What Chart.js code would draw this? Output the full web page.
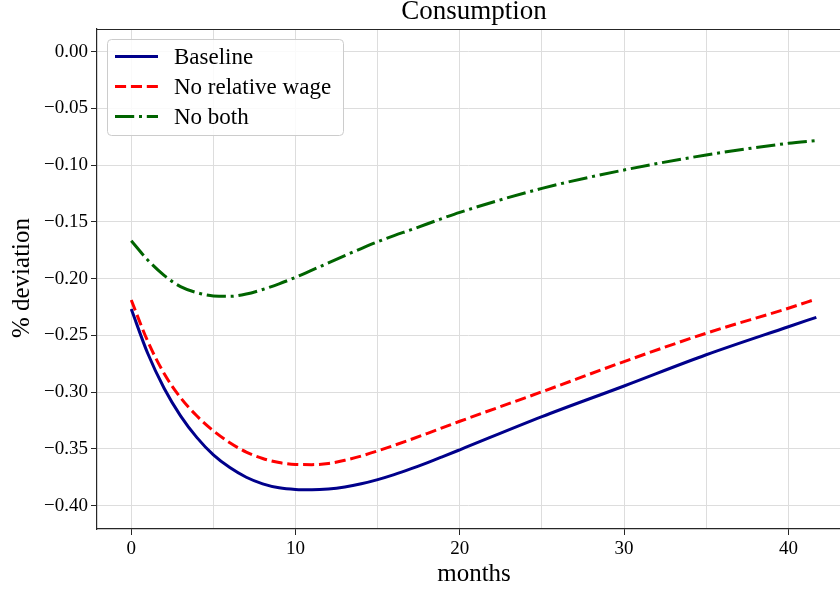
<!DOCTYPE html>
<html>
<head>
<meta charset="utf-8">
<script src="https://cdn.jsdelivr.net/npm/chart.js@4"></script>
<style>
  html, body { margin: 0; padding: 0; background: #ffffff; }
  #wrap { width: 840px; height: 589px; }
</style>
</head>
<body>
<div id="wrap"><canvas id="c" width="840" height="589"></canvas></div>
<script>
// ---- data ----
const months = [0,1,2,3,4,5,6,7,8,9,10,11,12,13,14,15,16,17,18,19,20,25,30,35,40,41.7];
const baseline = [-0.2267,-0.2657,-0.2965,-0.3208,-0.3400,-0.3552,-0.3664,-0.3749,-0.3807,-0.3842,-0.3857,-0.3860,-0.3853,-0.3835,-0.3807,-0.3770,-0.3726,-0.3676,-0.3622,-0.3565,-0.3507,-0.3215,-0.2945,-0.2670,-0.2423,-0.2340];
const noRelWage = [-0.2188,-0.2550,-0.2835,-0.3048,-0.3210,-0.3340,-0.3445,-0.3527,-0.3584,-0.3620,-0.3636,-0.3638,-0.3628,-0.3600,-0.3562,-0.3517,-0.3468,-0.3417,-0.3364,-0.3310,-0.3256,-0.2996,-0.2730,-0.2480,-0.2260,-0.2179];
const noBoth = [-0.1665,-0.1835,-0.1970,-0.2070,-0.2123,-0.2152,-0.2155,-0.2135,-0.2095,-0.2045,-0.1988,-0.1925,-0.1860,-0.1796,-0.1734,-0.1674,-0.1620,-0.1570,-0.1518,-0.1465,-0.1415,-0.1204,-0.1042,-0.0910,-0.0807,-0.0782];
const seriesNames = ['Baseline', 'No relative wage', 'No both'];
const titleText = 'Consumption';
const xLabel = 'months';
const yLabel = '% deviation';

const FONT = '"Liberation Serif", "Times New Roman", serif';

function toPoints(xs, ys) { return xs.map((x, i) => ({ x: x, y: ys[i] })); }

const decor = {
  id: 'decor',
  afterDraw(chart) {
    const ctx = chart.ctx;
    const a = chart.chartArea;
    ctx.save();
    // top spine
    ctx.strokeStyle = '#262626';
    ctx.lineWidth = 1.2;
    ctx.beginPath();
    ctx.moveTo(a.left, a.top + 0.5);
    ctx.lineTo(840, a.top + 0.5);
    ctx.stroke();

    // title
    ctx.fillStyle = '#000';
    ctx.textAlign = 'center';
    ctx.textBaseline = 'middle';
    ctx.font = '27px ' + FONT;
    ctx.fillText(titleText, 474, 12);

    // x label
    ctx.font = '25px ' + FONT;
    ctx.fillText(xLabel, 474, 574);

    // y label
    ctx.save();
    ctx.translate(22, 278);
    ctx.rotate(-Math.PI / 2);
    ctx.fillText(yLabel, 0, 0);
    ctx.restore();

    // legend
    const bx = 107.5, by = 39.5, bw = 236, bh = 96;
    ctx.beginPath();
    ctx.roundRect(bx, by, bw, bh, 4);
    ctx.fillStyle = 'rgba(255,255,255,0.85)';
    ctx.fill();
    ctx.strokeStyle = '#cccccc';
    ctx.lineWidth = 1;
    ctx.stroke();
    const rows = [56.5, 86.5, 116.5];
    chart.data.datasets.forEach((ds, i) => {
      ctx.save();
      ctx.strokeStyle = ds.borderColor;
      ctx.lineWidth = ds.borderWidth;
      ctx.setLineDash(ds.borderDash || []);
      ctx.lineCap = 'butt';
      ctx.beginPath();
      ctx.moveTo(115, rows[i]);
      ctx.lineTo(158, rows[i]);
      ctx.stroke();
      ctx.restore();
      ctx.fillStyle = '#000';
      ctx.textAlign = 'left';
      ctx.textBaseline = 'middle';
      ctx.font = '23px ' + FONT;
      ctx.fillText(ds.label, 174, rows[i] + 1);
    });
    ctx.restore();
  }
};

const chart = new Chart(document.getElementById('c'), {
  type: 'line',
  data: {
    datasets: [
      { label: seriesNames[0], data: toPoints(months, baseline), borderColor: '#00008b', borderWidth: 3, borderDash: [], pointRadius: 0, cubicInterpolationMode: 'monotone', fill: false },
      { label: seriesNames[1], data: toPoints(months, noRelWage), borderColor: '#ff0000', borderWidth: 3, borderDash: [11.1, 4.8], pointRadius: 0, cubicInterpolationMode: 'monotone', fill: false },
      { label: seriesNames[2], data: toPoints(months, noBoth), borderColor: '#006400', borderWidth: 3, borderDash: [19.2, 4.8, 3, 4.8], pointRadius: 0, cubicInterpolationMode: 'monotone', fill: false }
    ]
  },
  options: {
    responsive: false,
    animation: false,
    events: [],
    layout: { padding: { top: 29, left: 0, right: 0, bottom: 0 } },
    plugins: { legend: { display: false }, title: { display: false }, tooltip: { enabled: false } },
    scales: {
      x: {
        type: 'linear',
        min: -2.085,
        max: 43.14,
        afterFit(s) { s.height = 60; },
        border: { display: true, color: '#262626', width: 1.2 },
        grid: {
          color: '#dddddd',
          lineWidth: 1,
          tickLength: 6,
          tickColor: (c) => (c.tick && Math.round(c.tick.value) % 10 === 0) ? '#262626' : 'rgba(0,0,0,0)'
        },
        ticks: {
          stepSize: 5,
          includeBounds: false,
          autoSkip: false,
          maxRotation: 0,
          padding: 3,
          color: '#000',
          font: { family: FONT, size: 19 },
          callback: (v) => (Math.round(v) % 10 === 0) ? String(Math.round(v)) : ''
        }
      },
      y: {
        type: 'linear',
        min: -0.4205,
        max: 0.0200,
        afterFit(s) { s.width = 97; },
        border: { display: true, color: '#262626', width: 1.2 },
        grid: { color: '#dddddd', lineWidth: 1, tickLength: 6, tickColor: '#262626' },
        ticks: {
          stepSize: 0.05,
          includeBounds: false,
          padding: 3,
          color: '#000',
          font: { family: FONT, size: 19 },
          callback: (v) => { const s = Number(v).toFixed(2); return s === '-0.00' ? '0.00' : s.replace('-', '\u2212'); }
        }
      }
    }
  },
  plugins: [decor]
});
</script>
</body>
</html>
